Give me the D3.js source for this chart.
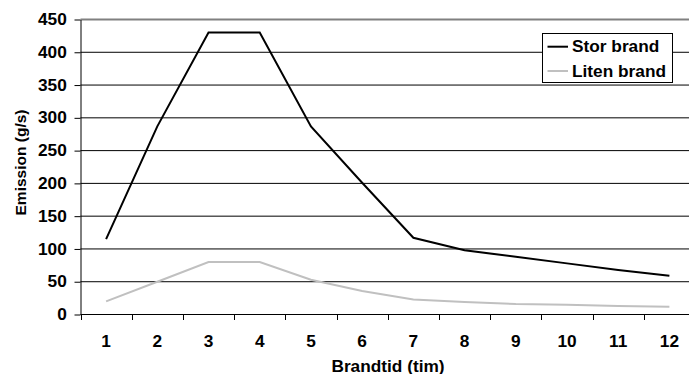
<!DOCTYPE html>
<html>
<head>
<meta charset="utf-8">
<script src="https://cdn.jsdelivr.net/npm/d3@7"></script>
<style>
  html, body { margin: 0; padding: 0; background: #fff; }
  svg { display: block; }
  text { font-family: "Liberation Sans", Arial, sans-serif; font-weight: bold; fill: #000; }
</style>
</head>
<body>
<div id="chart"></div>
<script>
const hours = [1, 2, 3, 4, 5, 6, 7, 8, 9, 10, 11, 12];
const storBrand = [115, 287, 430, 430, 287, 201, 117, 98, 88, 78, 68, 59];
const litenBrand = [20, 50, 80, 80, 53, 36, 23, 19, 16, 15, 13, 12];
const yTicks = [0, 50, 100, 150, 200, 250, 300, 350, 400, 450];
const seriesNames = ['Stor brand', 'Liten brand'];
const seriesColors = ['#000000', '#c0c0c0'];

const W = 689, H = 374;
const FS = '16px';
const SX = 1.08; // text is a bit wide in the picture

const svg = d3.select('#chart').append('svg')
  .attr('width', W).attr('height', H);

const x = d3.scaleBand().domain(hours).range([80.5, 695]);
const y = d3.scaleLinear().domain([0, 450]).range([314.5, 19.5]);
const cx = d => x(d) + x.bandwidth() / 2;

// gridlines
svg.append('g')
  .selectAll('line')
  .data(yTicks.filter(v => v > 0))
  .enter().append('line')
  .attr('x1', 80.5).attr('x2', 695)
  .attr('y1', d => y(d)).attr('y2', d => y(d))
  .attr('stroke', d => d === 450 ? '#808080' : '#000')
  .attr('stroke-width', d => d === 450 ? 2 : 1);

// y axis
const yAxis = svg.append('g')
  .attr('transform', 'translate(80.5,0)')
  .call(d3.axisLeft(y).tickValues(yTicks).tickSize(6).tickSizeOuter(0));
yAxis.select('.domain').attr('stroke', '#000');
yAxis.selectAll('.tick line').attr('stroke', '#000');
yAxis.selectAll('.tick text')
  .attr('x', -12.7)
  .attr('transform', `scale(${SX},1)`)
  .style('font-size', FS)
  .style('font-family', '"Liberation Sans", Arial, sans-serif')
  .style('font-weight', 'bold');

// x axis
const xAxis = svg.append('g')
  .attr('transform', 'translate(0,314.5)')
  .call(d3.axisBottom(x).tickSize(0).tickPadding(21.5));
xAxis.select('.domain').remove();
xAxis.append('line')
  .attr('x1', 80.5).attr('x2', 695)
  .attr('stroke', '#000');
xAxis.selectAll('.tick text')
  .attr('transform', `scale(${SX},1)`)
  .style('font-size', FS)
  .style('font-family', '"Liberation Sans", Arial, sans-serif')
  .style('font-weight', 'bold');
// tick marks at band boundaries
svg.append('g')
  .selectAll('line')
  .data(hours)
  .enter().append('line')
  .attr('x1', d => Math.round(x(d)) + 0.5).attr('x2', d => Math.round(x(d)) + 0.5)
  .attr('y1', 314.5).attr('y2', 320)
  .attr('stroke', '#000');

// lines
const line = d3.line().x(d => cx(d.h)).y(d => y(d.v));
[litenBrand, storBrand].forEach((vals, k) => {
  const idx = k === 0 ? 1 : 0;
  svg.append('path')
    .datum(hours.map((h, i) => ({ h, v: vals[i] })))
    .attr('d', line)
    .attr('fill', 'none')
    .attr('stroke', seriesColors[idx])
    .attr('stroke-width', 2)
    .attr('stroke-linejoin', 'miter');
});

// axis titles
svg.append('text')
  .attr('transform', `translate(388,371.5) scale(${SX},1)`)
  .attr('text-anchor', 'middle')
  .style('font-size', FS)
  .text('Brandtid (tim)');

svg.append('text')
  .attr('transform', 'translate(25.5,162.5) rotate(-90)')
  .attr('text-anchor', 'middle')
  .style('font-size', '15.5px')
  .text('Emission (g/s)');

// legend
const leg = svg.append('g');
leg.append('rect')
  .attr('x', 542.5).attr('y', 33.5)
  .attr('width', 130).attr('height', 49)
  .attr('fill', '#fff').attr('stroke', '#000');
seriesNames.forEach((name, i) => {
  const ly = 46.7 + i * 24.3;
  leg.append('line')
    .attr('x1', 547.5).attr('x2', 568)
    .attr('y1', ly).attr('y2', ly)
    .attr('stroke', seriesColors[i]).attr('stroke-width', 2);
  leg.append('text')
    .attr('transform', `translate(572,${ly + 5.7}) scale(${SX},1)`)
    .style('font-size', FS)
    .text(name);
});
</script>
</body>
</html>
